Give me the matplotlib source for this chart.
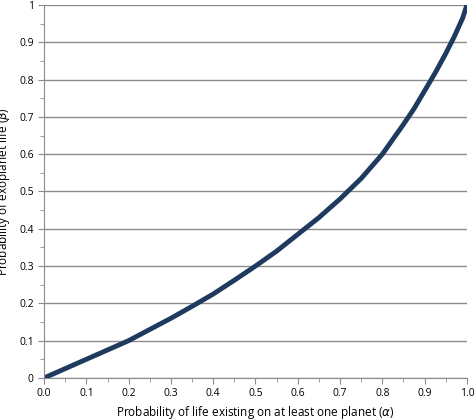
import matplotlib
matplotlib.use("Agg")
import matplotlib.pyplot as plt
from matplotlib.ticker import MultipleLocator

alpha = [0.0, 0.05, 0.1, 0.15, 0.2, 0.25, 0.3, 0.35, 0.4, 0.45, 0.5, 0.55, 0.6, 0.65, 0.7,
         0.75, 0.8, 0.85, 0.875, 0.9, 0.925, 0.95, 0.97, 0.98, 0.99, 1.0]
beta = [0.0, 0.025, 0.05, 0.075, 0.1, 0.13, 0.16, 0.192, 0.225, 0.262, 0.3, 0.34, 0.385, 0.43, 0.48,
        0.535, 0.6, 0.68, 0.722, 0.77, 0.818, 0.87, 0.915, 0.94, 0.965, 1.0]

plt.rcParams['font.family'] = ['Open Sans', 'DejaVu Sans']
fig = plt.figure(figsize=(4.74, 4.19), dpi=100)
ax = fig.add_axes([0.093, 0.098, 0.892, 0.89])
ax.plot(alpha, beta, color='#1f3a5f', lw=3.5, solid_capstyle='round', solid_joinstyle='round')
ax.set_xlim(0, 1)
ax.set_ylim(0, 1)
ax.xaxis.set_major_locator(MultipleLocator(0.1))
ax.xaxis.set_minor_locator(MultipleLocator(0.05))
ax.yaxis.set_major_locator(MultipleLocator(0.1))
ax.yaxis.set_minor_locator(MultipleLocator(0.05))
ax.xaxis.set_major_formatter(plt.FuncFormatter(lambda v, p: f"{v:.1f}"))
ax.yaxis.set_major_formatter(plt.FuncFormatter(lambda v, p: "0" if abs(v) < 1e-9 else ("1" if abs(v-1) < 1e-9 else f"{v:.1f}")))
ax.grid(axis='y', which='major', color='#8c8c8c', lw=1)
ax.set_axisbelow(True)
for s in ['top', 'right']:
    ax.spines[s].set_visible(False)
for s in ['left', 'bottom']:
    ax.spines[s].set_color('#8c8c8c')
ax.tick_params(which='both', direction='out', color='#8c8c8c', labelsize=7.5)
ax.tick_params(which='major', length=4)
ax.tick_params(which='minor', length=3)
ax.set_xlabel('Probability of life existing on at least one planet ($\\alpha$)', fontsize=8.5, labelpad=3)
ax.set_ylabel('Probability of exoplanet life ($\\beta$)', fontsize=8.5, labelpad=2)
ax.yaxis.set_label_coords(-0.075, 0.5)
fig.savefig('out.png', dpi=100)
